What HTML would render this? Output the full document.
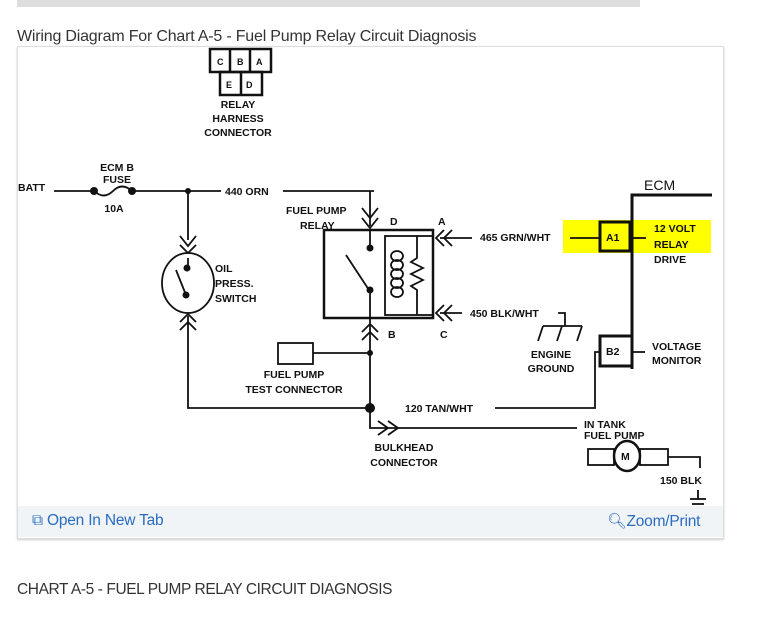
<!DOCTYPE html>
<html><head><meta charset="utf-8"><style>
body{margin:0;background:#fff;width:774px;height:639px;overflow:hidden;position:relative;font-family:"Liberation Sans",sans-serif}
.t{position:absolute;color:#333;font-size:15.5px;letter-spacing:-0.4px}
</style></head><body>
<div style="position:absolute;left:17px;top:0;width:623px;height:7px;background:#ddd"></div>
<div class="t" style="left:17px;top:28px;font-size:16px;letter-spacing:-0.2px">Wiring Diagram For Chart A-5 - Fuel Pump Relay Circuit Diagnosis</div>
<div style="position:absolute;left:17px;top:46px;width:705px;height:491px;border:1px solid #ddd;box-shadow:0 1px 2px #ccc"></div>
<div style="position:absolute;left:18px;top:506px;width:705px;height:31px;background:#f1f4f7"></div>
<div style="position:absolute;left:32px;top:512px;color:#2a6cc0;font-size:15.5px;letter-spacing:-0.2px">⧉ Open In New Tab</div>
<div style="position:absolute;left:607px;top:512px;color:#2a6cc0;font-size:15.5px;letter-spacing:-0.2px">🔍︎Zoom/Print</div>
<div class="t" style="left:17px;top:581px">CHART A-5 - FUEL PUMP RELAY CIRCUIT DIAGNOSIS</div>
<svg style="position:absolute;left:0;top:0" width="774" height="639" font-family="Liberation Sans" font-weight="bold" font-size="10.5" fill="#111">
<rect x="563" y="220" width="148" height="33" fill="#ffff00"/>
<g stroke="#111" stroke-width="2.5" fill="none">
<rect x="210" y="49" width="61" height="23"/><line x1="230" y1="49" x2="230" y2="72"/><line x1="250" y1="49" x2="250" y2="72"/>
<rect x="220" y="72" width="42" height="23"/><line x1="241" y1="72" x2="241" y2="95"/>
</g>
<g font-size="9"><text x="217" y="65">C</text><text x="237" y="65">B</text><text x="256" y="65">A</text><text x="226" y="88">E</text><text x="246" y="88">D</text></g>
<g text-anchor="middle"><text x="238" y="108">RELAY</text><text x="238" y="122">HARNESS</text><text x="238" y="136">CONNECTOR</text>
<text x="117" y="171">ECM B</text><text x="117" y="183">FUSE</text><text x="114" y="212">10A</text></g>
<text x="18" y="191">BATT</text>
<g stroke="#111" stroke-width="1.8" fill="none">
<line x1="54" y1="191" x2="94" y2="191"/><path d="M94 191 Q104 200 113 191 Q122 182 132 191"/><line x1="132" y1="191" x2="221" y2="191"/>
<polyline points="283,191 374,191 370,191 370,226"/>
<line x1="188" y1="191" x2="188" y2="240"/>
<polyline points="362,208 370,218 378,208"/><polyline points="362,218 370,228 378,218"/>
<polyline points="180,236 188,246 196,236"/><polyline points="180,245 188,253 196,245"/>
<ellipse cx="188" cy="283" rx="26" ry="30"/>
<line x1="188" y1="258" x2="188" y2="268"/><line x1="176" y1="270" x2="186" y2="295"/>
<polyline points="180,322 188,314 196,322"/><polyline points="180,330 188,322 196,330"/>
<polyline points="188,316 188,408 370,408"/>
</g>
<circle cx="94" cy="191" r="4"/><circle cx="132" cy="191" r="4"/><circle cx="188" cy="191" r="3"/>
<circle cx="187" cy="268" r="3.5"/><circle cx="186" cy="295" r="3.5"/>
<text x="225" y="195">440 ORN</text>
<text x="215" y="272">OIL</text><text x="215" y="287">PRESS.</text><text x="215" y="302">SWITCH</text>
<text x="286" y="214">FUEL PUMP</text><text x="300" y="229">RELAY</text>
<text x="390" y="225">D</text><text x="438" y="225">A</text><text x="388" y="338">B</text><text x="440" y="338">C</text>
<g stroke="#111" stroke-width="2.5" fill="none">
<rect x="324" y="230" width="109" height="88"/>
</g>
<g stroke="#111" stroke-width="1.8" fill="none">
<rect x="385" y="236" width="48" height="79"/>
<line x1="370" y1="230" x2="370" y2="248"/><line x1="346" y1="255" x2="369" y2="290"/>
<line x1="370" y1="290" x2="370" y2="408"/>
<ellipse cx="397" cy="256" rx="6" ry="5"/><ellipse cx="397" cy="265" rx="6" ry="5"/><ellipse cx="397" cy="274" rx="6" ry="5"/><ellipse cx="397" cy="283" rx="6" ry="5"/><ellipse cx="397" cy="292" rx="6" ry="5"/>
<polyline points="417,236 417,258 411,262 423,268 411,274 423,280 411,286 417,290 417,315"/>
<polyline points="444,230 436,238 444,246"/><polyline points="452,230 444,238 452,246"/><line x1="440" y1="238" x2="472" y2="238"/>
<polyline points="444,305 436,313 444,321"/><polyline points="452,305 444,313 452,321"/><line x1="440" y1="313" x2="462" y2="313"/>
<polyline points="362,332 370,324 378,332"/><polyline points="362,340 370,332 378,340"/>
<rect x="278" y="343" width="35" height="21"/><line x1="313" y1="353" x2="370" y2="353"/>
<polyline points="370,408 370,428 577,428"/>
<polyline points="378,421 388,428 378,435"/><polyline points="388,421 398,428 388,435"/>
<line x1="570" y1="238" x2="600" y2="238"/>
<polyline points="558,313 565,313 565,326"/><line x1="543" y1="326" x2="582" y2="326"/>
<line x1="543" y1="326" x2="538" y2="341"/><line x1="562" y1="326" x2="557" y2="341"/><line x1="582" y1="326" x2="577" y2="341"/>
<polyline points="495,408 595,408 595,352 600,352"/>
<line x1="632" y1="238" x2="646" y2="238"/><line x1="632" y1="352" x2="645" y2="352"/>
<rect x="588" y="449" width="26" height="16"/><rect x="640" y="449" width="28" height="16"/>
<polyline points="668,457 700,457 700,468"/>
<line x1="698" y1="490" x2="698" y2="499"/><line x1="690" y1="499" x2="706" y2="499"/><line x1="692" y1="504" x2="704" y2="504"/>
</g>
<circle cx="370" cy="248" r="3.5"/><circle cx="370" cy="290" r="3.5"/><circle cx="370" cy="353" r="3"/><circle cx="370" cy="408" r="5"/>
<ellipse cx="627" cy="456" rx="13" ry="15" fill="#fff" stroke="#111" stroke-width="2.5"/>
<text x="621" y="460">M</text>
<g stroke="#111" stroke-width="3" fill="none">
<polyline points="712,195 632,195 632,369"/>
<rect x="600" y="222" width="30" height="29"/><rect x="600" y="336" width="32" height="30"/>
</g>
<text x="606" y="241">A1</text><text x="606" y="355">B2</text>
<text x="644" y="190" font-size="14" font-weight="normal">ECM</text>
<text x="480" y="241">465 GRN/WHT</text>
<text x="654" y="232">12 VOLT</text><text x="654" y="248">RELAY</text><text x="654" y="263">DRIVE</text>
<text x="470" y="317">450 BLK/WHT</text>
<text x="551" y="358" text-anchor="middle">ENGINE</text><text x="551" y="372" text-anchor="middle">GROUND</text>
<text x="652" y="350">VOLTAGE</text><text x="652" y="364">MONITOR</text>
<text x="294" y="378" text-anchor="middle">FUEL PUMP</text><text x="294" y="393" text-anchor="middle">TEST CONNECTOR</text>
<text x="405" y="412">120 TAN/WHT</text>
<text x="404" y="451" text-anchor="middle">BULKHEAD</text><text x="404" y="466" text-anchor="middle">CONNECTOR</text>
<text x="584" y="428">IN TANK</text><text x="584" y="439">FUEL PUMP</text>
<text x="660" y="484">150 BLK</text>
</svg>
</body></html>
